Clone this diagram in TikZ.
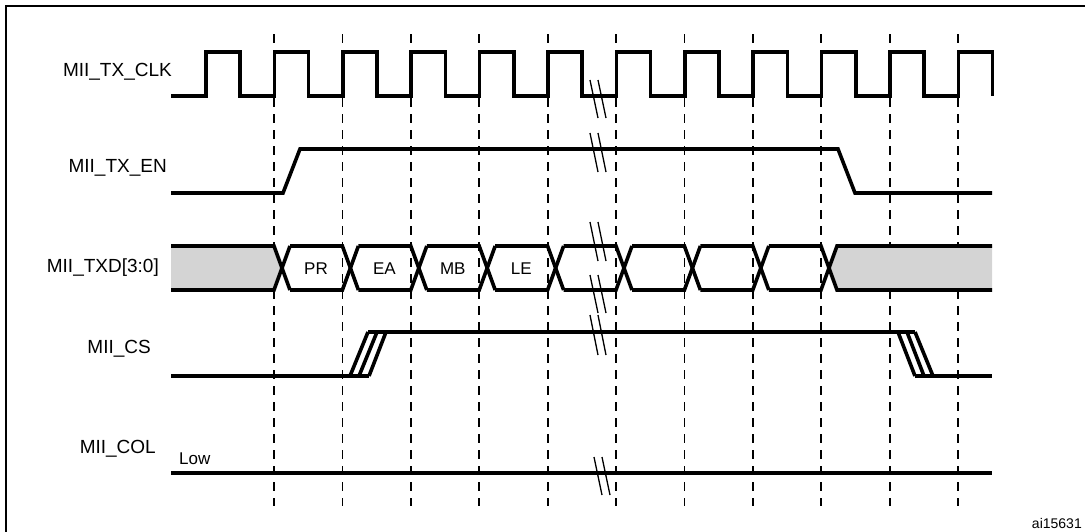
\documentclass[tikz,border=0pt]{standalone}
\usepackage{fontspec}
\setmainfont{Liberation Sans}
\begin{document}
\begin{tikzpicture}[x=1pt,y=-1pt,
  sig/.style={line width=3.6pt,line join=miter},
  grid/.style={line width=1.8pt,dash pattern=on 9pt off 7pt},
  brk/.style={line width=1.3pt},
  lbl/.style={font=\fontsize{19}{19}\selectfont,anchor=east,inner sep=0pt},
  fillg/.style={fill=black!17}]
\useasboundingbox (0,0) rectangle (1085,531);
\begin{scope}
\clip (0,0) rectangle (1085,531);
\draw[line width=2pt] (6,6) rectangle (1095,540);
\end{scope}
% dashed grid
\foreach \k in {0,...,10} \draw[grid] (274+68.4*\k,34) -- (274+68.4*\k,506);
% labels
\node[lbl] (lclk) at (172,72) {MII\_TX\_CLK};
\node[lbl] (len) at (167,168) {MII\_TX\_EN};
\node[lbl] (ltxd) at (159,268) {MII\_TXD[3:0]};
\node[lbl] (lcs) at (151,349) {MII\_CS};
\node[lbl] (lcol) at (156,449) {MII\_COL};
\node[font=\fontsize{17}{17}\selectfont,anchor=west,inner sep=0pt] (low) at (179,459) {Low};
% clock
\draw[sig] (171,96)
  \foreach \k in {0,...,11}{ -- (206+68.4*\k,96) -- (206+68.4*\k,52) -- (240.2+68.4*\k,52) -- (240.2+68.4*\k,96)} ;
% TX_EN
\draw[sig] (171,193) -- (283,193) -- (300,149) -- (838,149) -- (855,193) -- (992,193);
% TXD
\fill[fillg] (171,246) -- (274,246) -- (282,268) -- (274,290) -- (171,290) -- cycle;
\fill[fillg] (992,246) -- (837,246) -- (829,268) -- (837,290) -- (992,290) -- cycle;
\draw[sig] (171,246) -- (274,246) -- (290,290);
\draw[sig] (171,290) -- (274,290) -- (290,246);
\foreach \k in {1,...,7}{
  \draw[sig] (274+68.4*\k-68.4+16,246) -- (274+68.4*\k,246) -- (290+68.4*\k,290);
  \draw[sig] (274+68.4*\k-68.4+16,290) -- (274+68.4*\k,290) -- (290+68.4*\k,246);
}
\draw[sig] (768.8,246) -- (821,246) -- (837,290) -- (992,290);
\draw[sig] (768.8,290) -- (821,290) -- (837,246) -- (992,246);
\foreach \t/\k in {PR/0,EA/1,MB/2,LE/3}
  \node[font=\fontsize{17}{17}\selectfont,inner sep=0pt] (d\t) at (316+68.4*\k,269) {\t};
% CS
\draw[sig] (171,376) -- (369,376);
\draw[sig] (350,376) -- (368,332);
\draw[sig] (359,376) -- (377,332);
\draw[sig] (369,376) -- (386,332);
\draw[sig] (368,332) -- (915,332);
\draw[sig] (898,332) -- (915,376);
\draw[sig] (907,332) -- (924,376);
\draw[sig] (915,332) -- (933,376);
\draw[sig] (915,376) -- (992,376);
% COL
\draw[sig] (171,473) -- (992,473);
% break marks
\foreach \ya/\yb in {80/118,133/172,222/261,275/313,315/355}{
  \draw[brk] (590,\ya) -- (598,\yb);
  \draw[brk] (598,\ya) -- (606,\yb);
}
\draw[brk] (594,457) -- (602,495);
\draw[brk] (602,457) -- (610,495);
\node[font=\fontsize{14}{14}\selectfont,anchor=east,inner sep=0pt] (id) at (1082,523) {ai15631};
\end{tikzpicture}
\end{document}
